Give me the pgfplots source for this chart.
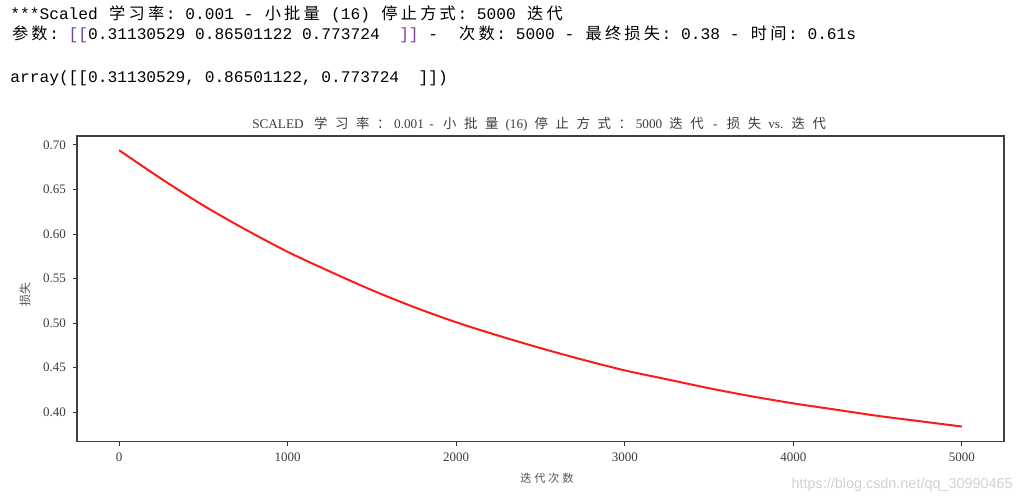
\documentclass[border=0pt]{standalone}
\usepackage{fontspec}
\setmainfont{Liberation Serif}
\setmonofont{Liberation Mono}
\newfontfamily\cjk{Noto Sans CJK SC}
\newfontfamily\cjkT[LetterSpace=25]{Noto Sans CJK SC}
\newfontfamily\wsans{Liberation Sans}
\usepackage{pgfplots}
\pgfplotsset{compat=1.18}
\definecolor{arr}{HTML}{7A3E9D}
\definecolor{lossred}{HTML}{FF1A1A}
\definecolor{tk}{HTML}{3C3C3C}
\definecolor{lbl}{HTML}{555555}
\newlength\cw \setlength\cw{9.72pt}
\newcommand\z[1]{\makebox[\cw]{\cjk #1}}
\newcommand\tc[1]{\makebox[10.5pt]{\cjk\fontsize{6.7pt}{7pt}\selectfont #1}}
\pgfplotstableread{
it loss
0 0.694
250 0.662
500 0.632
750 0.605
1000 0.580
1250 0.558
1500 0.537
1750 0.518
2000 0.501
2250 0.486
2500 0.472
2750 0.459
3000 0.447
3250 0.437
3500 0.427
3750 0.418
4000 0.410
4250 0.403
4500 0.396
4750 0.390
5000 0.384
}\losstable
\begin{document}
\begin{tikzpicture}
\begin{scope}[x=0.5pt,y=0.5pt]
\path[use as bounding box] (0,0) rectangle (1035,501);
\node[anchor=base west, inner sep=0] at (10,481) {\fontsize{8.1pt}{9pt}\ttfamily ***Scaled \z{学}\z{习}\z{率}: 0.001 - \z{小}\z{批}\z{量} (16) \z{停}\z{止}\z{方}\z{式}: 5000 \z{迭}\z{代}};
\node[anchor=base west, inner sep=0] at (10,461) {\fontsize{8.1pt}{9pt}\ttfamily \z{参}\z{数}: \textcolor{arr}{[[}0.31130529 0.86501122 0.773724\ \ \textcolor{arr}{]]} -\ \ \z{次}\z{数}: 5000 - \z{最}\z{终}\z{损}\z{失}: 0.38 - \z{时}\z{间}: 0.61s};
\node[anchor=base west, inner sep=0] at (10,418) {\fontsize{8.1pt}{9pt}\ttfamily array([[0.31130529, 0.86501122, 0.773724\ \ ]])};
\node[anchor=base, inner sep=0, text=tk] at (541,372) {\fontsize{6.6pt}{7pt}\selectfont SCALED \ \tc{学}\tc{习}\tc{率}\tc{：}0.001 \,-\, \tc{小}\tc{批}\tc{量} (16) \tc{停}\tc{止}\tc{方}\tc{式}\tc{：}5000 \tc{迭}\tc{代} \,-\, \tc{损}\tc{失} vs. \tc{迭}\tc{代}};
\node[rotate=90, inner sep=0, text=lbl] at (25,206) {\fontsize{6pt}{7pt}\cjk 损失};
\node[inner sep=0, text=lbl] at (547,23) {\fontsize{5.6pt}{6pt}\cjkT 迭代次数};
\node[anchor=base east, inner sep=0, text=black!18] at (1013,12) {\fontsize{7.2pt}{8pt}\wsans https://blog.csdn.net/qq\_30990465};
\end{scope}
\begin{axis}[
  at={(38.5pt,29.65pt)}, anchor=south west,
  scale only axis, width=463.5pt, height=152.85pt,
  xmin=-250, xmax=5250, ymin=0.367, ymax=0.710,
  xtick={0,1000,2000,3000,4000,5000},
  ytick={0.40,0.45,0.50,0.55,0.60,0.65,0.70},
  tick align=outside, tick pos=left, major tick length=2pt,
  axis line style={black!75, line width=0.7pt},
  tick style={black!80, line width=0.5pt},
  every tick label/.append style={font=\fontsize{6.5pt}{7pt}\selectfont, text=tk},
  xticklabel style={/pgf/number format/1000 sep={}},
  yticklabel style={/pgf/number format/.cd, fixed, fixed zerofill, precision=2},
  /pgf/number format/assume math mode=true,
]
\addplot[lossred, line width=1pt, smooth] table[x=it, y=loss] {\losstable};
\end{axis}
\end{tikzpicture}
\end{document}
